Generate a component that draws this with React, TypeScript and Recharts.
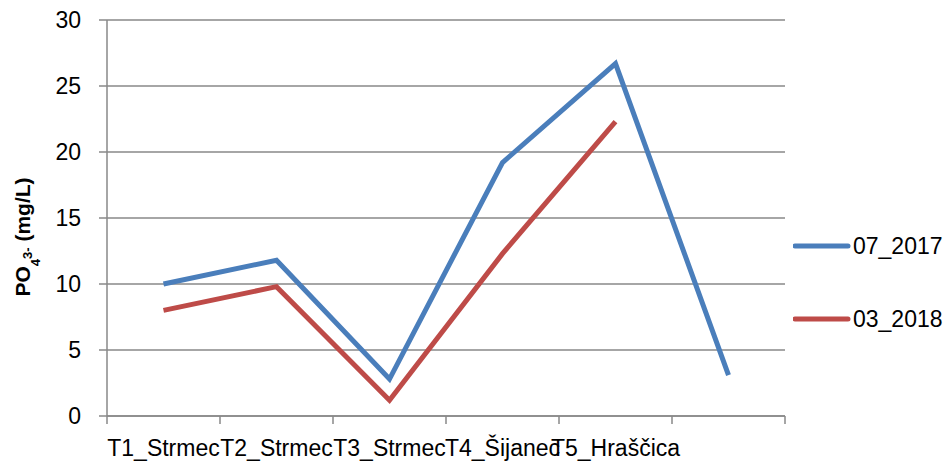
import React from 'react';
import { LineChart, Line, XAxis, YAxis, CartesianGrid, Label } from 'recharts';

const categories = ['T1_Strmec', 'T2_Strmec', 'T3_Strmec', 'T4_Šijanec', 'T5_Hraščica', ''];
const series2017: (number | null)[] = [10.0, 11.8, 2.8, 19.2, 26.7, 3.1];
const series2018: (number | null)[] = [8.0, 9.8, 1.2, 12.3, 22.3, null];
const yTicks = [0, 5, 10, 15, 20, 25, 30];
const boundaryTicks = [0, 1, 2, 3, 4, 5, 6];
const seriesNames = ['07_2017', '03_2018'];
const colors = ['#4A7EBB', '#BE4B48'];

const data = categories.map((c, i) => ({ x: i + 0.5, name: c, a: series2017[i], b: series2018[i] }));

const FONT = '"Liberation Sans", Arial, sans-serif';
const GRID = '#898989';

const YLabel = () => (
  <text
    transform="translate(30,237) rotate(-90)"
    textAnchor="middle"
    fontFamily={FONT}
    fontWeight="bold"
    fontSize={21}
    fill="#000"
  >
    <tspan>PO</tspan>
    <tspan fontSize={13} dy={10}>4</tspan>
    <tspan fontSize={13} dy={-8}>3-</tspan>
    <tspan dy={-2}> (mg/L)</tspan>
  </text>
);

const XTick = (props: any) => {
  const { x, y, payload, width } = props;
  const idx = Math.round(payload.value);
  const label = categories[idx];
  if (!label) return <g />;
  const half = width / categories.length / 2;
  return (
    <text
      x={x + half}
      y={y + 14}
      dy="0.71em"
      textAnchor="middle"
      fontFamily={FONT}
      fontSize={23}
      fill="#000"
    >
      {label}
    </text>
  );
};

export default function App() {
  return (
    <div style={{ position: 'absolute', left: 0, top: 0, width: 950, height: 463, background: '#fff' }}>
      <LineChart
        width={950}
        height={463}
        data={data}
        margin={{ top: 20, right: 165, left: 0, bottom: 0 }}
      >
        <CartesianGrid horizontal vertical={false} stroke={GRID} strokeWidth={1.5} />
        <XAxis
          type="number"
          dataKey="x"
          domain={[0, 6]}
          ticks={boundaryTicks}
          interval={0}
          height={47}
          tickSize={8}
          tick={<XTick />}
          stroke={GRID}
          strokeWidth={1.5}
        />
        <YAxis
          type="number"
          domain={[0, 30]}
          ticks={yTicks}
          interval={0}
          width={107}
          tickSize={8}
          tickMargin={18}
          stroke={GRID}
          strokeWidth={1.5}
          tick={{ fill: '#000', fontFamily: FONT, fontSize: 23 }}
        >
          <Label content={<YLabel />} />
        </YAxis>
        <Line
          type="linear"
          dataKey="a"
          name={seriesNames[0]}
          stroke={colors[0]}
          strokeWidth={5}
          dot={false}
          isAnimationActive={false}
        />
        <Line
          type="linear"
          dataKey="b"
          name={seriesNames[1]}
          stroke={colors[1]}
          strokeWidth={5}
          dot={false}
          isAnimationActive={false}
        />
      </LineChart>
      {seriesNames.map((n, i) => (
        <div
          key={n}
          style={{
            position: 'absolute',
            left: 793,
            top: 246 + i * 73 - 15,
            height: 30,
            display: 'flex',
            alignItems: 'center',
            fontFamily: FONT,
            fontSize: 23,
            color: '#000',
          }}
        >
          <svg width={58} height={10} style={{ display: 'block' }}>
            <line x1={2} y1={5} x2={55} y2={5} stroke={colors[i]} strokeWidth={5} strokeLinecap="round" />
          </svg>
          <span style={{ marginLeft: 2 }}>{n}</span>
        </div>
      ))}
    </div>
  );
}
